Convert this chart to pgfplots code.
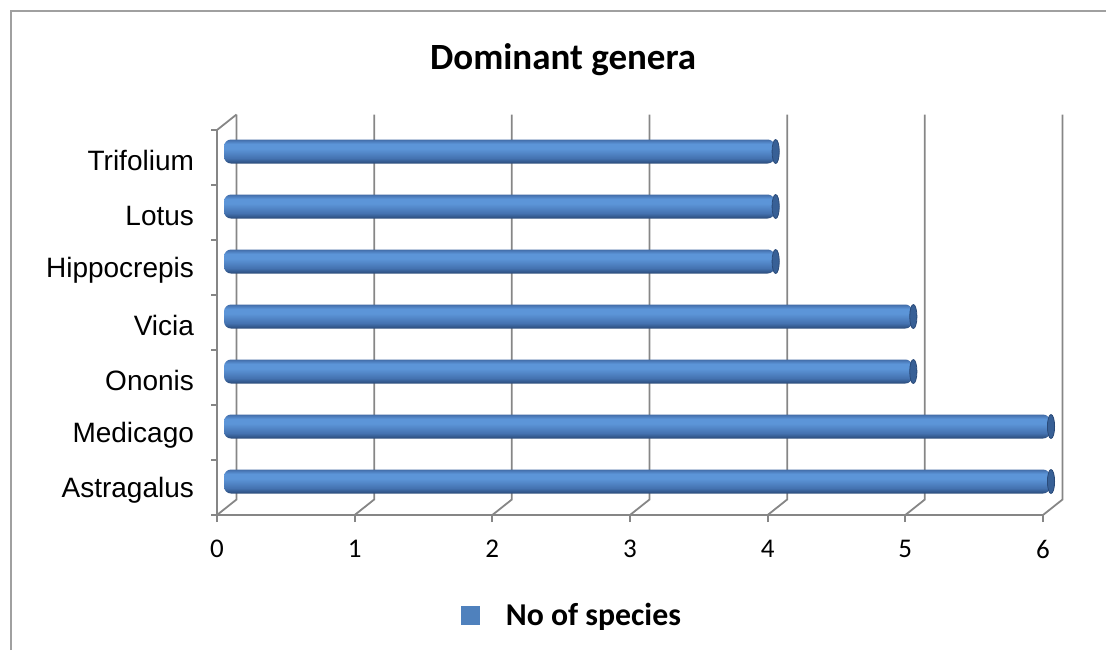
\documentclass[border=0pt]{standalone}
\usepackage{pgfplots}
\pgfplotsset{compat=1.18}
\usepackage{fontspec}
\setmainfont{Liberation Sans}
\newfontfamily\calfont{Carlito}
\definecolor{gridg}{RGB}{134,134,134}
\definecolor{framec}{RGB}{160,160,160}
\definecolor{barmain}{RGB}{79,129,189}
\definecolor{bartop}{RGB}{66,108,168}
\definecolor{barmid}{RGB}{92,149,216}
\definecolor{barlow}{RGB}{68,114,176}
\definecolor{barbot}{RGB}{42,74,120}
\definecolor{barend}{RGB}{56,96,150}
\pgfdeclareverticalshading{cyl}{100bp}{color(0bp)=(barbot); color(25bp)=(barbot); color(36bp)=(barlow); color(56bp)=(barmid); color(66bp)=(barmid); color(75bp)=(bartop); color(100bp)=(bartop)}
\pgfplotsset{cylbar/.style={xbar, bar width=12pt, bar shift=0pt, xshift=3.5pt, yshift=3pt,
  draw=none, rounded corners=3.5pt, shading=cyl, forget plot},
  cylend/.style={only marks, mark=*, mark size=6pt, xshift=4pt, yshift=3pt,
  mark options={xscale=0.3, fill=barend, draw=barbot, line width=0.4pt}, forget plot}}
\begin{document}
\begin{tikzpicture}
\path[use as bounding box] (0,0) rectangle (553pt,325pt);
\draw[framec, line width=0.9pt] (5.5pt,0) -- (5.5pt,319.5pt) -- (553pt,319.5pt);
\begin{axis}[
  scale only axis,
  width=413pt, height=192.5pt,
  at={(108.5pt,67.5pt)}, anchor=south west,
  xmin=0, xmax=6, ymin=-0.5, ymax=6.5,
  axis x line*=bottom, axis y line*=left,
  axis line style={gridg, line width=0.9pt},
  tick align=outside,
  xtick={0,...,6},
  ytick={0,...,6},
  yticklabels={Astragalus,Medicago,Ononis,Vicia,Hippocrepis,Lotus,Trifolium},
  minor ytick={-0.5,0.5,1.5,2.5,3.5,4.5,5.5,6.5},
  major tick length=3.5pt, minor tick length=3pt,
  major y tick style={draw=none},
  tick style={gridg, line width=0.9pt},
  yticklabel style={font=\fontsize{14}{16}\selectfont, anchor=east, xshift=-4.5pt, yshift=-1.5pt},
  xticklabel style={font=\calfont\fontsize{13.5}{15}\selectfont, yshift=-5.5pt},
  /pgf/number format/assume math mode=true,
  title={\calfont\bfseries Dominant genera},
  title style={font=\fontsize{18.5}{20}\selectfont, at={(axis description cs:0.419,1.127)}, anchor=base},
  legend style={draw=none, fill=none, at={(axis description cs:0.431,-0.262)}, anchor=center,
     font=\calfont\bfseries\fontsize{15.9}{18}\selectfont,
     /tikz/every odd column/.append style={column sep=11pt}},
  clip=false,
]
\pgfplotsinvokeforeach{0,...,6}{
  \draw[gridg, line width=0.9pt] (axis cs:#1,-0.5) -- ++(9.75pt,7.75pt) -- ([shift={(9.75pt,7.75pt)}]axis cs:#1,6.5);
}
\draw[gridg, line width=0.9pt] (axis cs:0,6.5) -- ++(9.75pt,7.75pt);
\addlegendimage{legend image code/.code={\fill[barmain] (0pt,-4.5pt) rectangle (9pt,4.5pt);}}
\addlegendentry{No of species}
% Astragalus, Medicago, Ononis, Vicia, Hippocrepis, Lotus, Trifolium
\addplot[cylbar] coordinates {(6,0)};
\addplot[cylbar] coordinates {(6,1)};
\addplot[cylbar] coordinates {(5,2)};
\addplot[cylbar] coordinates {(5,3)};
\addplot[cylbar] coordinates {(4,4)};
\addplot[cylbar] coordinates {(4,5)};
\addplot[cylbar] coordinates {(4,6)};
\addplot[cylend] coordinates {(6,0) (6,1) (5,2) (5,3) (4,4) (4,5) (4,6)};
\end{axis}
\end{tikzpicture}
\end{document}
